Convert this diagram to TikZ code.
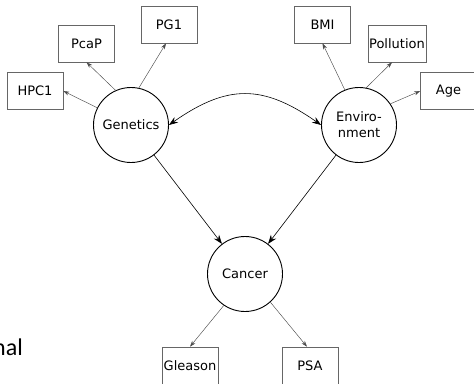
\documentclass[tikz,border=0pt]{standalone}
\usepackage{fontspec}
\setmainfont{DejaVu Sans}
\newfontfamily\slidefont{Carlito}
\usetikzlibrary{arrows.meta}

\tikzset{
  var/.style={circle, draw=black, line width=0.9pt, minimum size=75pt, inner sep=0pt,
              align=center, font=\fontsize{13}{16}\selectfont},
  obs/.style={rectangle, draw=black!60, line width=0.6pt, minimum width=56pt,
              minimum height=37pt, inner xsep=1pt, font=\fontsize{13}{16}\selectfont},
  causal/.style={draw=black, line width=0.6pt, -{Stealth[length=9pt,width=6.5pt]}},
  measure/.style={draw=black!70, line width=0.45pt, -{Stealth[length=6pt,width=4pt]}},
}

\begin{document}
\begin{tikzpicture}[x=1pt,y=-1pt]
  \useasboundingbox (0,0) rectangle (474,383);

  % latent variables
  \node[var] (gen) at (131,125) {Genetics};
  \node[var] (env) at (359,125) {Enviro-\\nment};
  \node[var] (can) at (245,274) {Cancer};

  % observed indicators
  \node[obs] (hpc)  at (35,91)    {HPC1};
  \node[obs] (pcap) at (86.5,43.5) {PcaP};
  \node[obs] (pg)   at (169,24.5) {PG1};
  \node[obs] (bmi)  at (322.5,24.5) {BMI};
  \node[obs] (pol)  at (397,43.5) {Pollution};
  \node[obs] (age)  at (448.5,91) {Age};
  \node[obs] (gle)  at (190,365.5) {Gleason};
  \node[obs] (psa)  at (310,365.5) {PSA};

  % slide text
  \node[anchor=base west, inner sep=0pt, font=\slidefont\fontsize{24}{28}\selectfont]
    (lbl) at (-7,355) {nal};

  % correlation between the two causes
  \draw[draw=black, line width=0.6pt,
        {Stealth[length=9pt,width=6.5pt]}-{Stealth[length=9pt,width=6.5pt]}]
    (gen.east) to[out=35,in=145,looseness=1.2] (env.west);

  % causal paths
  \draw[causal] (gen) -- (can);
  \draw[causal] (env) -- (can);

  % measurement arrows
  \draw[measure] (gen.153) -- (hpc.east);
  \draw[measure] (gen.114) -- (pcap.south);
  \draw[measure] (gen.78)  -- ([xshift=-3pt]pg.south);
  \draw[measure] (env.112) -- (bmi.south);
  \draw[measure] (env.79)  -- ([xshift=-5pt]pol.south);
  \draw[measure] (env.34)  -- (age.west);
  \draw[measure] (can.236) -- (gle.north);
  \draw[measure] (can.-48) -- ([xshift=-3pt]psa.north);
\end{tikzpicture}
\end{document}
